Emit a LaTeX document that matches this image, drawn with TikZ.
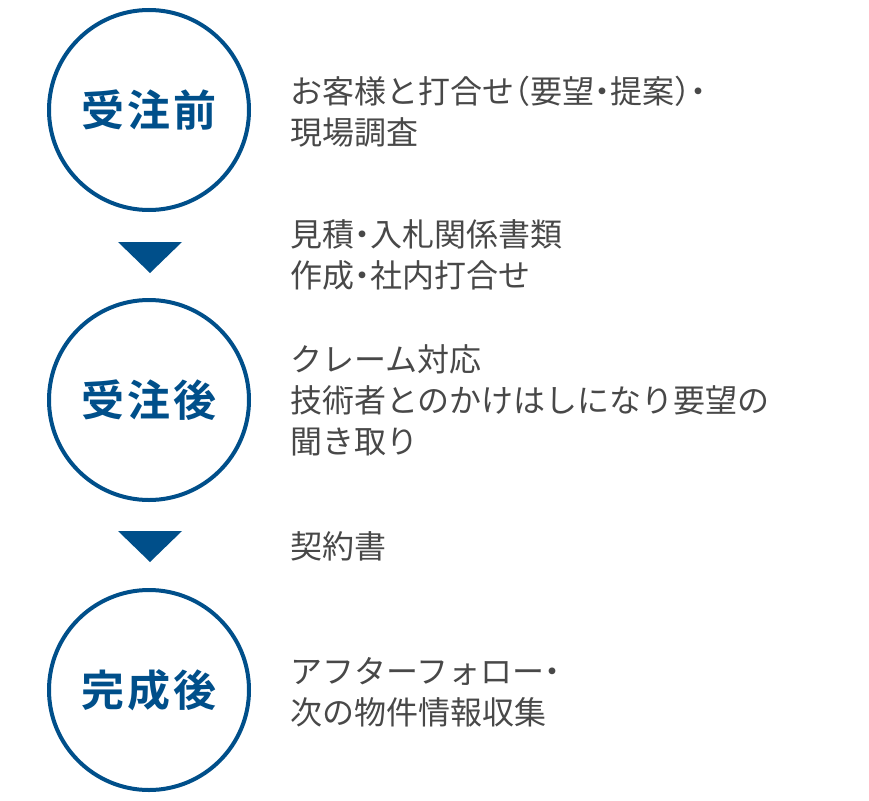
\documentclass[tikz,border=0pt]{standalone}
\usepackage{fontspec}
\setmainfont{Noto Sans CJK JP}
\newfontfamily\cjkbold[LetterSpace=7]{Noto Sans CJK JP Bold}
\newfontfamily\cjkreg[RawFeature=+halt]{Noto Sans CJK JP}
\definecolor{navy}{HTML}{004F8A}
\definecolor{txt}{HTML}{484848}
\begin{document}
\begin{tikzpicture}[x=1pt,y=-1pt,
  stage/.style={circle,draw=navy,line width=4pt,minimum size=200pt,inner sep=0pt,
    text=navy,font=\fontsize{43}{46}\cjkbold},
  desc/.style={anchor=west,align=left,text=txt,inner sep=0pt,
    font=\fontsize{32}{41}\cjkreg},
  tri/.style={fill=navy}]
\useasboundingbox (0,0) rectangle (869,800);
\node[stage] (c1) at (149,110) {受注前};
\node[stage] (c2) at (149,400) {受注後};
\node[stage] (c3) at (149,690) {完成後};
\fill[tri] (118,242) -- (182,242) -- (150,273) -- cycle;
\fill[tri] (118,531) -- (182,531) -- (150,562) -- cycle;
\node[desc] (d1) at (290,112) {お客様と打合せ（要望・提案）・\\現場調査};
\node[desc] (d2) at (290,255) {見積・入札関係書類\\作成・社内打合せ};
\node[desc] (d3) at (290,400) {クレーム対応\\技術者とのかけはしになり要望の\\聞き取り};
\node[desc] (d4) at (290,546) {契約書};
\node[desc] (d5) at (290,692) {アフターフォロー・\\次の物件情報収集};
\end{tikzpicture}
\end{document}
